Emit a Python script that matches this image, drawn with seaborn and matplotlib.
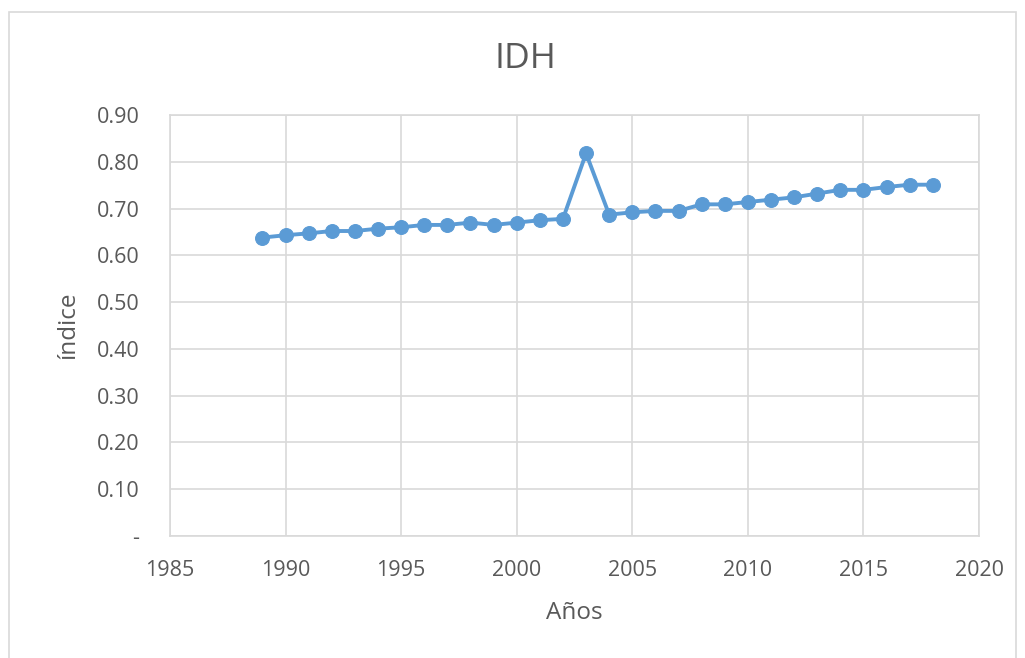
import numpy as np
import pandas as pd
import matplotlib
matplotlib.use('Agg')
from matplotlib import pyplot as plt
from matplotlib.patches import Rectangle
import seaborn as sns

# data
years = list(range(1989, 2019))
idh = [0.638, 0.643, 0.647, 0.652, 0.652, 0.657, 0.660, 0.665, 0.665, 0.670,
       0.665, 0.670, 0.675, 0.678, 0.818, 0.687, 0.692, 0.695, 0.695, 0.709,
       0.709, 0.714, 0.719, 0.724, 0.732, 0.740, 0.740, 0.746, 0.751, 0.751]
x_ticks = [1985, 1990, 1995, 2000, 2005, 2010, 2015, 2020]
y_ticks = [0.0, 0.1, 0.2, 0.3, 0.4, 0.5, 0.6, 0.7, 0.8, 0.9]
y_ticklabels = ['-', '0.10', '0.20', '0.30', '0.40', '0.50', '0.60', '0.70', '0.80', '0.90']

df = pd.DataFrame({'year': years, 'idh': idh})

sns.set_style('white')
plt.rcParams['font.family'] = ['Open Sans', 'DejaVu Sans']

blue = '#5B9BD5'
grey_txt = '#595959'
grid_c = '#D9D9D9'

fig = plt.figure(figsize=(10.25, 6.58), dpi=100)
ax = fig.add_axes([170 / 1025, 1 - 536 / 658, (979 - 170) / 1025, (536 - 115) / 658])

# outer chart border
fig.patches.append(Rectangle((9 / 1025, -0.1), (1016 - 9) / 1025, 1.1 - 12 / 658,
                             transform=fig.transFigure, fill=False,
                             edgecolor='#D9D9D9', linewidth=1.2))

sns.lineplot(data=df, x='year', y='idh', ax=ax, color=blue, linewidth=2.8,
             marker='o', markersize=10, markeredgecolor=blue, markerfacecolor=blue)

ax.set_xlim(1985, 2020)
ax.set_ylim(0, 0.9)
ax.set_xticks(x_ticks)
ax.set_yticks(y_ticks)
ax.set_yticklabels(y_ticklabels)
ax.grid(True, color=grid_c, linewidth=1.2)
ax.set_axisbelow(True)
for s in ax.spines.values():
    s.set_color(grid_c)
    s.set_linewidth(1.2)

ax.tick_params(axis='both', length=0, labelsize=15.5, labelcolor=grey_txt)
ax.tick_params(axis='y', pad=22)
ax.tick_params(axis='x', pad=17)

ax.set_xlabel('Años', fontsize=17.5, color=grey_txt, labelpad=15)
ax.set_ylabel('índice', fontsize=17.5, color=grey_txt, labelpad=12)
fig.text(525 / 1025, 1 - 59 / 658, 'IDH', fontsize=25.5, color=grey_txt,
         ha='center', va='center')

fig.savefig('out.png', dpi=100)
